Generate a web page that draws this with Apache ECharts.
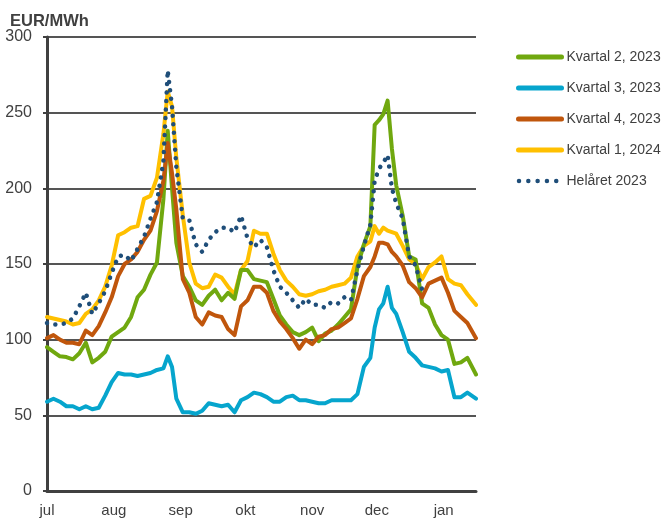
<!DOCTYPE html>
<html>
<head>
<meta charset="utf-8">
<script src="https://cdn.jsdelivr.net/npm/echarts@6/dist/echarts.min.js"></script>
<style>
  html, body { margin: 0; padding: 0; background: #ffffff; }
  #chart { width: 662px; height: 523px; }
</style>
</head>
<body>
<div id="chart"></div>
<script>
// Days counted from 1 July 2023
const days = [0,3,6,9,12,15,18,21,24,27,30,33,36,39,42,45,48,51,54,56,58,60,63,66,69,72,75,78,81,84,87,90,93,96,99,102,105,108,111,114,117,120,123,126,129,132,135,138,141,144,147,150,152,154,156,158,160,162,165,168,171,174,177,180,183,186,189,192,195,199];

// Month ticks (day offset) and their labels
const monthDays = [0, 31, 62, 92, 123, 153, 184];
const monthLabels = ['jul', 'aug', 'sep', 'okt', 'nov', 'dec', 'jan'];

// Forward prices, EUR/MWh
const kvartal2_2023 = [95,92,89,88.5,87,91,98,85,88,92,
  102,105,108,115,128,133,143,151,193,238,
  200,164,142,135,126,123,129,133,126,131,
  127,146,146,140,139,138,127,116,110,105,
  103,105,108,99,104,106,110,115,120,148,
  163,175,242,245,249,258,226,202,182,155,
  153,124,121,110,103,100,84,85,88,77];

const kvartal3_2023 = [59,61,59,56,56,54,56,54,55,63,
  72,78,77,77,76,77,78,80,81,89,
  82,61,52,52,51,53,58,57,56,57,
  52,60,62,65,64,62,59,59,62,63,
  60,60,59,58,58,60,60,60,60,64,
  82,88,108,120,124,135,121,117,105,92,
  88,83,82,81,79,80,62,62,65,61];

const kvartal4_2023 = [101,103,100,98,98,97,106,103,109,118,
  128,142,150,153,158,166,172,185,205,230,
  210,186,140,131,115,110,118,116,115,107,
  103,122,126,135,135,131,119,112,107,101,
  94,100,97,102,103,107,108,111,114,127,
  142,148,155,164,164,163,158,155,149,138,
  134,128,137,139,141,131,119,115,111,101];

const kvartal1_2024 = [115,114,113,112,110,111,117,120,126,135,
  149,169,171,174,175,193,195,207,236,264,
  254,220,182,151,137,134,135,143,141,135,
  130,146,152,172,170,170,157,146,139,135,
  130,129,130,132,133,135,136,137,141,155,
  162,165,175,170,174,172,171,170,162,153,
  150,140,148,151,155,140,137,136,130,123];

const helaret_2023 = [111,110,110,111,114,122,131,117,124,132,
  144,155,156,152,160,168,180,191,218,278,
  254,214,180,179,163,158,166,171,174,174,
  171,182,167,161,166,161,146,135,131,126,
  121,127,123,123,121,125,124,128,126,146,
  162,176,205,213,217,222,200,190,180,155,
  149,133,131,null,null,null,null,null,null,null];

const pairs = vals => days.map((d, i) => [d, vals[i]]);

const textColor = '#404040';
const font = 'Liberation Sans, Arial, sans-serif';

const seriesDefs = [
  { name: 'Kvartal 1, 2024', data: kvartal1_2024, color: '#ffc000', z: 1 },
  { name: 'Kvartal 2, 2023', data: kvartal2_2023, color: '#70a80f', z: 2 },
  { name: 'Kvartal 3, 2023', data: kvartal3_2023, color: '#06a5cd', z: 3 },
  { name: 'Kvartal 4, 2023', data: kvartal4_2023, color: '#c0560c', z: 4 }
];

const series = seriesDefs.map(s => ({
  name: s.name,
  type: 'line',
  data: pairs(s.data),
  symbol: 'none',
  z: s.z,
  color: s.color,
  lineStyle: { color: s.color, width: 4, join: 'round', cap: 'round' },
  emphasis: { disabled: true },
  animation: false
}));

series.push({
  name: 'Helåret 2023',
  type: 'line',
  data: pairs(helaret_2023),
  symbol: 'none',
  z: 5,
  color: '#1f4e79',
  connectNulls: false,
  lineStyle: { color: '#1f4e79', width: 4.5, type: [0.01, 8.5], cap: 'round' },
  emphasis: { disabled: true },
  animation: false
});

// Legend entries: plain line (or dotted line) without a marker in the middle
const legendLine = (name, color, dotted) => ({
  name: name,
  itemStyle: { color: 'rgba(0,0,0,0)', borderColor: 'rgba(0,0,0,0)', borderWidth: 0, opacity: 0 },
  lineStyle: dotted
    ? { color: color, width: 4.5, type: [0.01, 9.3], cap: 'round', dashOffset: -0.5 }
    : { color: color, width: 5, cap: 'round' }
});

const chart = echarts.init(document.getElementById('chart'), null, { renderer: 'canvas' });
chart.setOption({
  backgroundColor: '#ffffff',
  animation: false,
  textStyle: { fontFamily: font },
  title: {
    text: 'EUR/MWh',
    left: 5,
    top: 8,
    textStyle: { fontFamily: font, fontSize: 16.5, fontWeight: 'bold', color: textColor }
  },
  legend: {
    orient: 'vertical',
    left: 516,
    top: 50,
    itemWidth: 43,
    itemHeight: 14,
    itemGap: 17,
    padding: 0,
    textStyle: { fontFamily: font, fontSize: 14, color: textColor },
    data: [
      legendLine('Kvartal 2, 2023', '#70a80f'),
      legendLine('Kvartal 3, 2023', '#06a5cd'),
      legendLine('Kvartal 4, 2023', '#c0560c'),
      legendLine('Kvartal 1, 2024', '#ffc000'),
      legendLine('Helåret 2023', '#1f4e79', true)
    ],
    selectedMode: false
  },
  grid: { left: 47, right: 186, top: 37, bottom: 32, containLabel: false },
  xAxis: {
    type: 'value',
    min: 0,
    max: 199,
    splitLine: { show: false },
    axisTick: { show: false },
    axisLine: { show: true, onZero: false, lineStyle: { color: textColor, width: 3 } },
    axisLabel: {
      customValues: monthDays,
      formatter: v => monthLabels[monthDays.indexOf(v)] || '',
      fontFamily: font,
      fontSize: 15,
      color: textColor,
      margin: 12
    }
  },
  yAxis: {
    type: 'value',
    min: 0,
    max: 300,
    interval: 50,
    axisLine: { show: true, lineStyle: { color: textColor, width: 3 } },
    axisTick: { show: true, length: 4, lineStyle: { color: textColor, width: 2 } },
    splitLine: { show: true, lineStyle: { color: '#555555', width: 2 } },
    axisLabel: { fontFamily: font, fontSize: 16, color: textColor, margin: 15 }
  },
  series: series
});
</script>
</body>
</html>
